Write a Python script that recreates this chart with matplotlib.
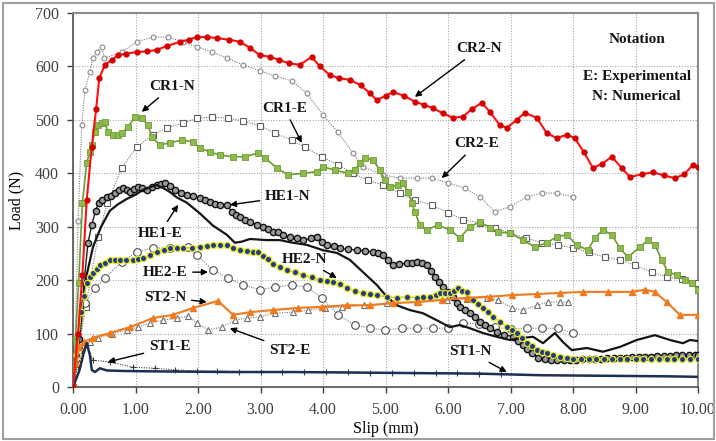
import matplotlib
matplotlib.use("Agg")
import matplotlib.pyplot as plt
from matplotlib.patches import Rectangle

plt.rcParams['font.family'] = ['Liberation Serif', 'DejaVu Serif']

# ---- data (slip mm, load N) ----
cr2n_x = [0, 0.08, 0.15, 0.22, 0.3, 0.37, 0.42, 0.51, 0.62, 0.72, 0.85, 1.02, 1.18, 1.34, 1.5, 1.71,
          1.85, 1.98, 2.15, 2.3, 2.5, 2.67, 2.83, 2.99, 3.15, 3.3, 3.45, 3.63, 3.82, 3.95, 4.11, 4.25,
          4.43, 4.6, 4.75, 4.86, 5.0, 5.12, 5.3, 5.47, 5.62, 5.76, 5.92, 6.08, 6.24, 6.38, 6.54, 6.67,
          6.83, 6.94, 7.1, 7.23, 7.42, 7.58, 7.74, 7.9, 8.03, 8.17, 8.32, 8.47, 8.62, 8.78, 8.91, 9.1,
          9.28, 9.45, 9.63, 9.78, 9.92, 10.0]
cr2n_y = [0, 100, 210, 350, 450, 520, 578, 603, 612, 621, 624, 627, 628, 631, 638, 646,
          650, 655, 655, 653, 650, 646, 635, 621, 618, 612, 606, 603, 618, 600, 584, 578,
          575, 565, 550, 537, 545, 552, 545, 534, 528, 522, 512, 504, 506, 520, 532, 515,
          490, 485, 500, 513, 504, 475, 466, 472, 466, 440, 410, 418, 431, 410, 393, 398,
          402, 396, 391, 398, 416, 412]

cr2e_x = [0, 0.03, 0.08, 0.14, 0.19, 0.27, 0.32, 0.38, 0.46, 0.5, 0.78, 1.02, 1.28, 1.52, 1.76,
          1.98, 2.22, 2.46, 2.72, 2.99, 3.23, 3.5, 3.74, 4.0, 4.24, 4.48, 4.64, 4.96, 5.23, 5.5,
          5.74, 6.0, 6.27, 6.51, 6.75, 6.99, 7.26, 7.5, 7.74, 8.0]
cr2e_y = [0, 60, 310, 490, 556, 590, 616, 627, 637, 615, 627, 646, 655, 655, 646,
          637, 627, 616, 603, 592, 582, 573, 550, 509, 477, 438, 412, 397, 391, 391,
          391, 382, 372, 356, 328, 337, 356, 363, 363, 356]

cr1n_x = [0, 0.04, 0.09, 0.15, 0.22, 0.27, 0.3, 0.35, 0.4, 0.46, 0.51, 0.56, 0.64, 0.72, 0.78,
          0.88, 0.99, 1.1, 1.2, 1.26, 1.39, 1.55, 1.74, 1.92, 2.03, 2.19, 2.35, 2.56, 2.75, 2.96,
          3.07, 3.26, 3.44, 3.68, 3.9, 4.0, 4.19, 4.4, 4.51, 4.59, 4.67, 4.8, 4.91, 4.99, 5.07,
          5.2, 5.28, 5.36, 5.42, 5.47, 5.55, 5.66, 5.84, 6.03, 6.19, 6.35, 6.51, 6.67, 6.8, 6.99,
          7.2, 7.39, 7.58, 7.74, 7.9, 8.06, 8.24, 8.35, 8.48, 8.62, 8.75, 8.88, 9.07, 9.2, 9.31,
          9.42, 9.52, 9.66, 9.79, 9.9, 10.0]
cr1n_y = [0, 90, 195, 345, 420, 440, 453, 477, 490, 494, 496, 477, 472, 472, 475,
          487, 505, 503, 490, 468, 453, 457, 462, 459, 447, 440, 434, 431, 431, 438,
          429, 410, 397, 400, 403, 412, 406, 400, 406, 419, 429, 425, 406, 388, 374,
          378, 382, 365, 345, 328, 303, 294, 303, 294, 279, 300, 309, 298, 290, 288,
          275, 262, 270, 281, 285, 266, 256, 279, 294, 285, 260, 243, 262, 275, 266,
          238, 215, 210, 200, 195, 182]

cr1e_x = [0, 0.2, 0.4, 0.55, 0.78, 1.02, 1.28, 1.5, 1.76, 1.98, 2.22, 2.48, 2.72, 2.99, 3.23,
          3.5, 3.71, 3.98, 4.24, 4.48, 4.72, 4.96, 5.23, 5.47, 5.74, 6.0, 6.24, 6.51, 6.75,
          6.99, 7.25, 7.5, 7.76, 8.0, 8.25, 8.51, 8.75, 8.99, 9.26, 9.5, 9.74, 10.0]
cr1e_y = [0, 150, 280, 345, 410, 449, 472, 485, 494, 503, 505, 503, 498, 489, 475,
          462, 449, 431, 416, 400, 387, 378, 363, 350, 341, 326, 313, 307, 298,
          288, 279, 270, 266, 260, 252, 243, 238, 228, 215, 206, 202, 195]

he1n_x = [0, 0.1, 0.18, 0.24, 0.3, 0.36, 0.41, 0.47, 0.54, 0.6, 0.67, 0.74, 0.8, 0.86, 0.91,
          0.98, 1.04, 1.1, 1.18, 1.26, 1.34, 1.4, 1.47, 1.55, 1.63, 1.72, 1.82, 1.92, 2.03,
          2.11, 2.19, 2.27, 2.35, 2.46, 2.54, 2.6, 2.67, 2.75, 2.83, 2.94, 3.04, 3.12, 3.2,
          3.28, 3.36, 3.47, 3.58, 3.68, 3.8, 3.9, 3.98, 4.06, 4.17, 4.27, 4.4, 4.54, 4.67,
          4.8, 4.88, 4.96, 5.04, 5.12, 5.22, 5.34, 5.42, 5.5, 5.58, 5.66, 5.72, 5.79, 5.86,
          5.92, 6.0, 6.08, 6.14, 6.19, 6.27, 6.35, 6.43, 6.51, 6.59, 6.67, 6.78, 6.9, 7.04,
          7.12, 7.2, 7.27, 7.34, 7.44, 7.55, 7.65, 7.75, 7.85, 7.95, 8.05, 8.15, 8.25, 8.35,
          8.45, 8.55, 8.65, 8.75, 8.85, 8.95, 9.05, 9.15, 9.25, 9.35, 9.45, 9.55, 9.65, 9.75,
          9.85, 9.95, 10.0]
he1n_y = [0, 90, 200, 270, 303, 330, 344, 350, 356, 358, 363, 368, 373, 369, 365,
          370, 375, 372, 369, 374, 378, 380, 382, 376, 369, 364, 359, 357, 354,
          350, 346, 343, 341, 341, 328, 322, 318, 313, 309, 304, 300, 296, 290,
          290, 285, 281, 278, 275, 278, 281, 272, 266, 263, 260, 258, 256, 255,
          253, 250, 247, 238, 228, 230, 232, 233, 234, 232, 228, 218, 206, 196,
          187, 177, 168, 158, 150, 144, 138, 131, 122, 116, 110, 103, 98, 94,
          87, 79, 72, 64, 55, 52, 51, 50, 50, 51, 51, 52, 52, 53,
          53, 54, 54, 55, 55, 56, 56, 57, 57, 58, 58, 58, 59, 59,
          60, 60, 60]

he1e_x = [0, 0.1, 0.19, 0.32, 0.45, 0.59, 0.72, 0.86, 1.0, 1.12, 1.24, 1.34, 1.45, 1.55, 1.66,
          1.82, 2.03, 2.24, 2.46, 2.59, 2.7, 2.83, 3.1, 3.31, 3.47, 3.74, 4.0, 4.22, 4.43, 4.64,
          4.86, 5.02, 5.18, 5.39, 5.6, 5.82, 6.03, 6.19, 6.35, 6.56, 6.78, 6.99, 7.2, 7.36, 7.52,
          7.71, 7.84, 7.98, 8.22, 8.48, 8.75, 9.02, 9.31, 9.55, 9.76, 9.87, 10.0]
he1e_y = [0, 90, 195, 262, 300, 330, 342, 352, 360, 369, 374, 378, 372, 365, 355,
          345, 325, 302, 285, 270, 272, 277, 275, 275, 271, 266, 256, 251, 238, 215,
          191, 169, 153, 144, 138, 125, 112, 116, 110, 101, 94, 88, 92, 94, 82,
          101, 84, 69, 73, 66, 75, 88, 97, 88, 82, 88, 86]

he2n_x = [0, 0.07, 0.13, 0.18, 0.22, 0.27, 0.32, 0.38, 0.43, 0.51, 0.59, 0.67, 0.75, 0.85, 0.96,
          1.04, 1.12, 1.23, 1.34, 1.45, 1.55, 1.66, 1.76, 1.9, 2.03, 2.14, 2.24, 2.35, 2.46, 2.56,
          2.67, 2.78, 2.88, 2.96, 3.04, 3.12, 3.2, 3.31, 3.42, 3.55, 3.68, 3.82, 3.95, 4.06, 4.16,
          4.27, 4.38, 4.51, 4.64, 4.75, 4.86, 5.02, 5.18, 5.34, 5.5, 5.6, 5.71, 5.8, 5.87, 5.95,
          6.03, 6.1, 6.16, 6.23, 6.3, 6.4, 6.48, 6.56, 6.64, 6.72, 6.83, 6.94, 7.02, 7.1, 7.18,
          7.26, 7.34, 7.42, 7.5, 7.58, 7.68, 7.79, 7.9, 8.0, 8.12, 8.25, 8.37, 8.5, 8.62, 8.75,
          8.87, 9.0, 9.12, 9.25, 9.37, 9.5, 9.62, 9.75, 9.87, 10.0]
he2n_y = [0, 60, 140, 170, 195, 205, 213, 220, 228, 233, 238, 238, 238, 238, 238,
          240, 241, 247, 253, 257, 260, 260, 260, 261, 262, 264, 266, 266, 266, 261,
          256, 254, 253, 252, 246, 240, 230, 225, 219, 215, 210, 205, 200, 198, 197,
          192, 185, 180, 176, 174, 172, 169, 167, 169, 167, 168, 169, 172, 176, 176,
          176, 180, 185, 180, 178, 163, 156, 148, 140, 131, 122, 112, 106, 101, 92,
          82, 76, 69, 66, 64, 60, 56, 54, 52, 52, 52, 52, 52, 52, 52,
          52, 52, 52, 52, 52, 52, 52, 52, 52, 52]

he2e_x = [0, 0.1, 0.19, 0.35, 0.51, 0.78, 1.02, 1.28, 1.55, 1.84, 1.98, 2.24, 2.48, 2.72, 2.99,
          3.23, 3.5, 3.74, 3.98, 4.24, 4.51, 4.75, 4.99, 5.26, 5.5, 5.76, 6.0, 6.24, 6.5, 6.75,
          7.0, 7.26, 7.5, 7.76, 8.0]
he2e_y = [0, 80, 157, 185, 204, 234, 253, 260, 260, 262, 247, 219, 204, 191, 182,
          187, 191, 187, 167, 135, 116, 110, 107, 110, 110, 110, 110, 120, 118, 112,
          108, 110, 110, 110, 101]

st2n_x = [0, 0.05, 0.1, 0.17, 0.32, 0.59, 0.91, 1.28, 1.6, 1.92, 2.32, 2.56, 2.83, 3.2, 3.6,
          3.98, 4.38, 4.75, 5.12, 5.52, 5.9, 6.3, 6.67, 7.02, 7.42, 7.79, 8.16, 8.56, 8.94, 9.15,
          9.31, 9.5, 9.71, 10.0]
st2n_y = [0, 45, 75, 84, 92, 101, 112, 129, 135, 148, 161, 135, 140, 144, 148,
          150, 153, 153, 157, 159, 163, 167, 169, 172, 174, 176, 178, 178, 178, 182,
          178, 159, 135, 135]

st2e_x = [0, 0.1, 0.27, 0.4, 0.63, 0.86, 1.04, 1.23, 1.44, 1.66, 1.84, 1.98, 2.16, 2.38, 2.59,
          2.78, 2.99, 3.23, 3.52, 3.76, 4.03, 4.3, 4.66, 5.02, 5.5, 5.98, 6.3, 6.62, 6.8, 7.02,
          7.2, 7.42, 7.6, 7.79, 7.92]
st2e_y = [0, 55, 84, 92, 100, 107, 112, 120, 125, 129, 133, 120, 107, 112, 125,
          129, 131, 138, 140, 144, 148, 150, 153, 157, 159, 163, 165, 167, 163, 148,
          144, 153, 159, 159, 159]

st1n_x = [0, 0.1, 0.17, 0.22, 0.27, 0.3, 0.35, 0.43, 0.54, 0.8, 1.5, 2.5, 3.5, 4.5, 5.5,
          6.5, 7.5, 8.5, 9.5, 10.0]
st1n_y = [0, 30, 63, 82, 60, 32, 28, 35, 31, 30, 29, 28, 28, 27, 26,
          25, 22, 21, 20, 19]

st1e_x = [0, 0.08, 0.15, 0.22, 0.32, 0.59, 0.96, 1.31, 1.63, 1.98, 2.3, 2.65, 3.0, 3.35, 3.7,
          4.05, 4.4, 4.75, 5.1, 5.45, 5.8, 6.15, 6.5, 6.85]
st1e_y = [0, 40, 70, 78, 50, 47, 37, 35, 32, 30, 30, 29, 29, 29, 28,
          28, 28, 27, 27, 27, 26, 26, 25, 25]

x_ticks = [0, 1, 2, 3, 4, 5, 6, 7, 8, 9, 10]
y_ticks = [0, 100, 200, 300, 400, 500, 600, 700]

fig = plt.figure(figsize=(7.16, 4.41), dpi=100)
ax = fig.add_axes([73 / 716, 1 - 387 / 441, 625 / 716, 374 / 441])

gray = '#7a7a7a'
dot = (0, (1, 1.2))

# experimental-style dotted gray curves
ax.plot(cr2e_x, cr2e_y, color=gray, lw=0.8, ls=dot, marker='o', ms=3.5,
        mfc='white', mec='#8a8a8a', mew=0.8, zorder=3)
ax.plot(cr1e_x, cr1e_y, color=gray, lw=0.8, ls=dot, marker='s', ms=5,
        mfc='white', mec='#606060', mew=0.8, zorder=3)
ax.plot(he2e_x, he2e_y, color=gray, lw=0.8, ls=dot, marker='o', ms=5.5,
        mfc='white', mec='#505050', mew=0.8, zorder=3)
ax.plot(st2e_x, st2e_y, color=gray, lw=0.8, ls=dot, marker='^', ms=5,
        mfc='white', mec='#707070', mew=0.8, zorder=3)
ax.plot(st1e_x, st1e_y, color='#404040', lw=0.8, ls=dot, marker='+', ms=5,
        mec='#404040', mew=0.8, zorder=3)

# other curves
ax.plot(cr1n_x, cr1n_y, color='#6e9a38', lw=1.2, marker='s', ms=5,
        mfc='#8dbb4c', mec='#6e9a38', mew=0.6, zorder=4)
ax.plot(cr2n_x, cr2n_y, color='#ff1010', lw=1.5, marker='o', ms=3.5,
        mfc='#d40000', mec='#d40000', zorder=5)
ax.plot(he1n_x, he1n_y, color='#202020', lw=1.0, marker='o', ms=4.5,
        mfc='#9a9a9a', mec='#111111', mew=1.0, zorder=4)
ax.plot(he1e_x, he1e_y, color='#151515', lw=1.6, zorder=4)
ax.plot(he2n_x, he2n_y, color='#c8c820', lw=1.0, marker='o', ms=4.5,
        mfc='#1f3d80', mec='#e6e62a', mew=0.9, zorder=4)
ax.plot(st2n_x, st2n_y, color='#f07a1e', lw=1.5, marker='^', ms=4.5,
        mfc='#f07a1e', mec='#f07a1e', zorder=4)
ax.plot(st1n_x, st1n_y, color='#1e2f4f', lw=1.8, zorder=4)

ax.set_xlim(0, 10)
ax.set_ylim(0, 700)
ax.set_xticks(x_ticks)
ax.set_yticks(y_ticks)
ax.set_xticklabels(['%.2f' % v for v in x_ticks])
ax.grid(True, color='#a8a8a8', lw=0.8, ls=(0, (1, 1.5)), zorder=0)
ax.tick_params(direction='out', length=4, width=1, colors='#404040', labelsize=11.5)
ax.tick_params(axis='x', pad=7)
ax.tick_params(axis='y', pad=6)
for s in ['left', 'bottom']:
    ax.spines[s].set_color('#505050')
    ax.spines[s].set_linewidth(1.2)
for s in ['top', 'right']:
    ax.spines[s].set_color('#8c8c8c')
    ax.spines[s].set_linewidth(1.5)

ax.set_xlabel('Slip (mm)', fontsize=11.5, labelpad=2)
ax.set_ylabel('Load (N)', fontsize=11.5, labelpad=8)

# notation box
ax.add_patch(Rectangle((0.803, 0.72), 0.197, 0.28, transform=ax.transAxes,
                       facecolor='white', edgecolor='none', zorder=1))
tk = dict(transform=ax.transAxes, ha='center', va='center', fontsize=11,
          fontweight='bold', color='#151515', zorder=6)
ax.text(0.902, 0.928, 'Notation', **tk)
ax.text(0.902, 0.829, 'E: Experimental', **tk)
ax.text(0.902, 0.778, 'N: Numerical', **tk)

# labels with arrows
labels = [
    ('CR2-N', (5.47, 543), (6.50, 633)),
    ('CR1-N', (1.10, 515), (1.58, 562)),
    ('CR1-E', (3.66, 457), (3.38, 522)),
    ('CR2-E', (5.90, 391), (6.46, 455)),
    ('HE1-N', (2.51, 341), (3.44, 356)),
    ('HE1-E', (1.68, 341), (1.39, 288)),
    ('HE2-E', (2.16, 215), (1.47, 215)),
    ('ST2-N', (2.14, 159), (1.47, 168)),
    ('ST1-E', (0.56, 47), (1.55, 75)),
    ('ST2-E', (2.51, 110), (3.47, 69)),
    ('HE2-N', (4.22, 204), (3.71, 238)),
    ('ST1-N', (6.94, 28), (6.35, 66)),
]
for name, tip, txt in labels:
    ax.annotate(name, xy=tip, xytext=txt, ha='center', va='center', fontsize=11,
                fontweight='bold', color='#151515', zorder=7,
                arrowprops=dict(arrowstyle='-|>', color='black', lw=1.0,
                                mutation_scale=9, shrinkA=2, shrinkB=0))

# outer frame
fig.patches.append(Rectangle((3 / 716, 2 / 441), 711 / 716, 436 / 441,
                             transform=fig.transFigure, fill=False,
                             edgecolor='#a0a0a0', lw=1.5))

fig.savefig('out.png', dpi=100)
